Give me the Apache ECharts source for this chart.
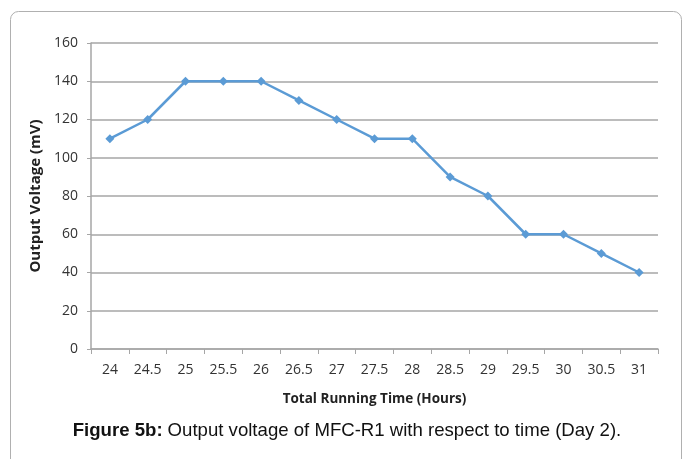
<!DOCTYPE html>
<html><head><meta charset="utf-8">
<script src="https://cdn.jsdelivr.net/npm/echarts@6/dist/echarts.min.js"></script>
<style>html,body{margin:0;padding:0;background:#fff}#c{width:683px;height:459px}</style>
</head><body><div id="c"></div>
<script>
const categories = ['24','24.5','25','25.5','26','26.5','27','27.5','28','28.5','29','29.5','30','30.5','31'];
const voltage = [110,120,140,140,140,130,120,110,110,90,80,60,60,50,40];
const yTicks = [0,20,40,60,80,100,120,140,160];

const chart = echarts.init(document.getElementById('c'));
chart.setOption({
  animation: false,
  backgroundColor: '#fff',
  graphic: [{
    type: 'rect', shape: {x: 10.5, y: 11.5, width: 671, height: 470, r: 8},
    style: {fill: 'none', stroke: '#b0b0b0', lineWidth: 1}, silent: true
  }],
  title: {
    text: '{b|Figure 5b:} {n|Output voltage of MFC-R1 with respect to time (Day 2).}',
    left: 342, top: 416, textAlign: 'center',
    textStyle: {
      fontWeight: 'normal',
      rich: {
        b: {fontFamily: 'Liberation Sans', fontWeight: 'bold', fontSize: 18.6, color: '#111'},
        n: {fontFamily: 'Liberation Sans', fontWeight: 'normal', fontSize: 18.6, color: '#111'}
      }
    }
  },
  grid: {left: 91, right: 25, top: 43, bottom: 110},
  xAxis: {
    type: 'category', data: categories, boundaryGap: true,
    name: 'Total Running Time (Hours)', nameLocation: 'middle', nameGap: 43,
    nameTextStyle: {fontFamily: 'Open Sans', fontWeight: 'bold', fontSize: 13.5, color: '#222'},
    axisLine: {lineStyle: {color: '#a6a6a6', width: 1.5}},
    axisTick: {show: true, length: 5, lineStyle: {color: '#a6a6a6'}},
    axisLabel: {fontFamily: 'Open Sans', fontSize: 14, color: '#333', margin: 14}
  },
  yAxis: {
    type: 'value', min: 0, max: 160, interval: 20,
    name: 'Output Voltage (mV)', nameLocation: 'middle', nameGap: 45,
    nameTextStyle: {fontFamily: 'Open Sans', fontWeight: 'bold', fontSize: 15, color: '#222'},
    axisLine: {show: true, lineStyle: {color: '#a6a6a6', width: 1.5}},
    axisTick: {show: true, length: 4, lineStyle: {color: '#a6a6a6'}},
    axisLabel: {fontFamily: 'Open Sans', fontSize: 14, color: '#333', margin: 13,
      formatter: v => yTicks.includes(v) ? String(v) : ''},
    splitLine: {lineStyle: {color: '#a6a6a6', width: 1.5}}
  },
  series: [{
    type: 'line', data: voltage,
    symbol: 'diamond', symbolSize: 9,
    lineStyle: {color: '#5b9bd5', width: 2.5},
    itemStyle: {color: '#5b9bd5'}
  }]
});
</script></body></html>
